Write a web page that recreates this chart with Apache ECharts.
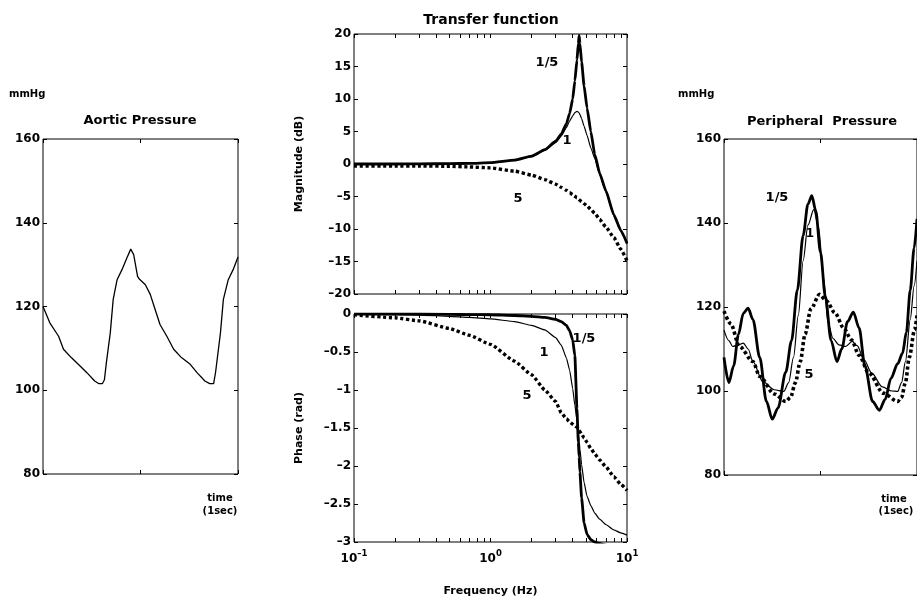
<!DOCTYPE html>
<html>
<head>
<meta charset="utf-8">
<script src="https://cdn.jsdelivr.net/npm/echarts@6/dist/echarts.min.js"></script>
<style>
  html, body { margin: 0; padding: 0; background: #fff; }
  #chart { width: 917px; height: 601px; }
</style>
</head>
<body>
<div id="chart"></div>
<script>
// aortic pressure, [time (s), mmHg]
var aortic = [[0,120],[0.07,116.1],[0.16,112.9],[0.21,109.8],[0.29,107.8],[0.38,105.8],[0.45,104.2],[0.53,102.2],
  [0.57,101.6],[0.61,101.6],[0.63,102.5],[0.65,106.6],[0.69,113.7],[0.72,121.7],[0.76,126.4],[0.81,128.8],
  [0.86,131.6],[0.9,133.7],[0.93,132.4],[0.97,127.2],[0.99,126.5],[1.05,125.2],[1.1,122.9],[1.15,119.3],
  [1.2,115.7],[1.27,112.9],[1.34,109.8],[1.42,107.8],[1.51,106.2],[1.58,104.2],[1.66,102.2],[1.71,101.6],
  [1.75,101.6],[1.77,104.3],[1.82,113.7],[1.85,121.7],[1.9,126.4],[1.95,128.8],[2.0,131.8]]

// transfer function, frequency in Hz
var freq = [0.1, 0.2, 0.3, 0.5, 0.7, 1, 1.5, 2, 2.5, 3, 3.3, 3.6, 3.8, 4.0, 4.15, 4.3, 4.4, 4.46, 4.52, 4.65,
  4.85, 5.1, 5.43, 5.8, 6.3, 7, 8, 9, 10]
var freqTicks = [0.1, 0.2, 0.3, 0.4, 0.5, 0.6, 0.7, 0.8, 0.9, 1, 2, 3, 4, 5, 6, 7, 8, 9, 10]
// magnitude (dB) for 1/5, 1, 5
var magA = [0, 0, 0.02, 0.05, 0.1, 0.2, 0.6, 1.2, 2.2, 3.5, 4.6, 6.2, 7.8, 10.0, 12.8, 16.0, 18.5, 19.8, 18.5, 15.7,
  12.0, 8.6, 5.0, 1.5, -1.4, -4.1, -7.8, -10.2, -12.2]
var magB = [0, 0, 0.02, 0.05, 0.1, 0.2, 0.55, 1.15, 2.1, 3.3, 4.3, 5.6, 6.6, 7.4, 7.9, 8.1, 8.0, 7.85, 7.6, 7.0,
  5.8, 4.4, 2.5, 0.9, -1.6, -4.3, -7.9, -10.3, -12.3]
var magC = [-0.3, -0.3, -0.3, -0.35, -0.45, -0.6, -1.1, -1.7, -2.4, -3.1, -3.6, -4.05, -4.4, -4.7, -4.95, -5.2, -5.4, -5.5, -5.6, -5.8,
  -6.1, -6.45, -7.0, -7.6, -8.5, -9.7, -11.3, -13.1, -14.9]
// phase (rad) for 1/5, 1, 5
var phA = [0, 0, 0, -0.005, -0.008, -0.01, -0.02, -0.03, -0.045, -0.07, -0.1, -0.15, -0.22, -0.34, -0.55, -1.25, -1.69, -1.88, -2.08, -2.42,
  -2.75, -2.9, -2.97, -3.0, -3.02, -3.04, -3.06, -3.07, -3.08]
var phB = [0, -0.01, -0.015, -0.03, -0.045, -0.065, -0.1, -0.15, -0.21, -0.31, -0.41, -0.58, -0.74, -0.98, -1.2, -1.4, -1.57, -1.67, -1.78, -1.98,
  -2.22, -2.4, -2.52, -2.62, -2.7, -2.77, -2.84, -2.88, -2.91]
var phC = [-0.01, -0.05, -0.09, -0.19, -0.28, -0.40, -0.62, -0.80, -1.0, -1.15, -1.3, -1.38, -1.42, -1.45, -1.47, -1.49, -1.51, -1.53, -1.55, -1.58,
  -1.63, -1.69, -1.77, -1.84, -1.92, -2.01, -2.14, -2.24, -2.32]

// peripheral pressure, [time (s), mmHg] for 1/5, 1, 5
var periA = [[0,108],[0.05,102],[0.1,106],[0.15,113.5],[0.2,118.5],[0.25,119.7],[0.3,117],[0.37,108],[0.44,97.5],
  [0.5,93.3],[0.56,96],[0.64,104.5],[0.7,112],[0.76,124],[0.82,137],[0.87,144.5],[0.91,146.5],[0.95,143],
  [1.0,133],[1.05,122.5],[1.11,112],[1.17,107],[1.22,110],[1.28,116.5],[1.34,118.8],[1.4,115],[1.46,106],
  [1.54,97.5],[1.61,95.4],[1.67,98],[1.73,103],[1.8,106.5],[1.85,109],[1.89,114],[1.93,124],[1.97,134],[2.0,141]]
var periB = [[0,114.5],[0.05,112],[0.09,110.6],[0.15,111],[0.2,111.4],[0.25,110],[0.3,107],[0.4,102.3],[0.52,100.3],
  [0.62,99.9],[0.67,102],[0.72,108],[0.77,118],[0.82,131],[0.87,139.5],[0.93,143.2],[0.98,139],[1.03,127],
  [1.08,116],[1.13,112.5],[1.19,111],[1.26,110.6],[1.33,111.8],[1.38,110.8],[1.45,107.5],[1.53,104.3],
  [1.64,101],[1.74,100],[1.8,99.9],[1.84,102],[1.88,107],[1.93,117],[1.97,125],[2.0,131]]
var periC = [[0,119],[0.07,116],[0.16,110.6],[0.3,107],[0.37,103.5],[0.52,99.3],[0.64,97.5],[0.69,98.5],[0.74,102],
  [0.79,107],[0.84,113.5],[0.9,119.5],[0.99,123],[1.06,121.5],[1.15,118.6],[1.24,115],[1.32,112.2],[1.4,108.5],
  [1.5,104.3],[1.65,99.5],[1.8,97.5],[1.84,98.5],[1.88,102],[1.92,108],[1.975,114.6],[2.0,118]]

var FONT = 'DejaVu Sans'
var chart = echarts.init(document.getElementById('chart'))

function pairs(ys) {
  return freq.map(function (f, i) { return [f, ys[i]] })
}
function minus(v) {
  return String(v).replace('-', '\u2013')
}
var tick = { show: true, inside: true, length: 4, lineStyle: { color: '#000', width: 1 } }
var logTick = { show: true, inside: true, length: 4, customValues: freqTicks, lineStyle: { color: '#000', width: 1 } }
var label = { color: '#000', fontFamily: FONT, fontWeight: 'bold', fontSize: 12, margin: 3 }
var noLabel = { show: false }
var noLine = { show: false, onZero: false }
var nameStyle = { color: '#000', fontFamily: FONT, fontWeight: 'bold', fontSize: 11 }

function timeAxis(grid, pos) {
  return { type: 'value', gridIndex: grid, position: pos, min: 0, max: 2, interval: 1,
    axisLine: noLine, axisTick: tick, axisLabel: noLabel, splitLine: { show: false } }
}
function logAxis(grid, pos, labels) {
  var ax = { type: 'log', logBase: 10, gridIndex: grid, position: pos, min: 0.1, max: 10,
    axisLine: noLine, axisTick: logTick, splitLine: { show: false }, axisLabel: noLabel }
  if (labels) {
    ax.axisLabel = {
      margin: 7,
      formatter: function (v) { return '{b|10}{s|' + minus(Math.round(Math.log10(v))) + '}' },
      rich: {
        b: { color: '#000', fontFamily: FONT, fontWeight: 'bold', fontSize: 12, verticalAlign: 'bottom' },
        s: { color: '#000', fontFamily: FONT, fontWeight: 'bold', fontSize: 8.5, verticalAlign: 'bottom', padding: [0, 0, 7, 0] }
      }
    }
    ax.name = 'Frequency (Hz)'
    ax.nameLocation = 'middle'
    ax.nameGap = 44
    ax.nameTextStyle = nameStyle
  }
  return ax
}
function valAxis(grid, pos, min, max, step, name) {
  var ax = { type: 'value', gridIndex: grid, position: pos, min: min, max: max, interval: step,
    axisLine: noLine, axisTick: tick, splitLine: { show: false },
    axisLabel: pos === 'left' ? Object.assign({ formatter: minus }, label) : noLabel }
  if (name) {
    ax.name = name
    ax.nameLocation = 'middle'
    ax.nameGap = 49
    ax.nameTextStyle = nameStyle
  }
  return ax
}
function line(x, y, data, width, dotted, smooth) {
  return {
    type: 'line', xAxisIndex: x, yAxisIndex: y, data: data, symbol: 'none', smooth: smooth,
    smoothMonotone: 'x', animation: false, silent: true,
    lineStyle: { color: '#000', width: width, type: dotted ? [3.2, 2.6] : 'solid', cap: 'butt' }
  }
}
function text(x, y, str, size, align) {
  return { type: 'text', x: x, y: y, silent: true,
    style: { text: str, fill: '#000', font: 'bold ' + (size || 12) + 'px "' + FONT + '"',
      textAlign: align || 'center', textVerticalAlign: 'middle' } }
}

var frame = { show: true, borderColor: '#000', borderWidth: 1, backgroundColor: 'transparent' }

chart.setOption({
  backgroundColor: '#fff',
  animation: false,
  grid: [
    Object.assign({ left: 43, top: 139, width: 195, height: 335 }, frame),
    Object.assign({ left: 354, top: 34, width: 273, height: 260 }, frame),
    Object.assign({ left: 354, top: 314, width: 273, height: 228 }, frame),
    Object.assign({ left: 724, top: 139, width: 195, height: 336 }, frame)
  ],
  xAxis: [
    timeAxis(0, 'bottom'), timeAxis(0, 'top'),
    logAxis(1, 'bottom', false), logAxis(1, 'top', false),
    logAxis(2, 'bottom', true), logAxis(2, 'top', false),
    timeAxis(3, 'bottom'), timeAxis(3, 'top')
  ],
  yAxis: [
    valAxis(0, 'left', 80, 160, 20), valAxis(0, 'right', 80, 160, 20),
    valAxis(1, 'left', -20, 20, 5, 'Magnitude (dB)'), valAxis(1, 'right', -20, 20, 5),
    valAxis(2, 'left', -3, 0, 0.5, 'Phase (rad)'), valAxis(2, 'right', -3, 0, 0.5),
    valAxis(3, 'left', 80, 160, 20), valAxis(3, 'right', 80, 160, 20)
  ],
  series: [
    line(0, 0, aortic, 1.3, false, false),
    line(2, 2, pairs(magA), 2.8, false, 0.15),
    line(2, 2, pairs(magB), 1.2, false, 0.15),
    line(2, 2, pairs(magC), 3.4, true, 0.15),
    line(4, 4, pairs(phA), 2.8, false, 0.15),
    line(4, 4, pairs(phB), 1.2, false, 0.15),
    line(4, 4, pairs(phC), 3.4, true, 0.15),
    line(6, 6, periA, 2.8, false, 0.3),
    line(6, 6, periB, 1.2, false, 0.3),
    line(6, 6, periC, 3.6, true, 0.3)
  ],
  graphic: [
    text(9, 94, 'mmHg', 10, 'left'),
    text(140, 121, 'Aortic Pressure', 13),
    text(220, 498, 'time', 10),
    text(220, 511, '(1sec)', 10),
    text(491, 20, 'Transfer function', 14),
    text(547, 63, '1/5', 13), text(567, 141, '1', 13), text(518, 199, '5', 13),
    text(584, 339, '1/5', 13), text(544, 353, '1', 13), text(527, 396, '5', 13),
    text(678, 94, 'mmHg', 10, 'left'),
    text(822, 122, 'Peripheral  Pressure', 13),
    text(777, 198, '1/5', 13), text(810, 234, '1', 12), text(809, 375, '5', 13),
    text(894, 499, 'time', 10),
    text(896, 511, '(1sec)', 10)
  ]
})
</script>
</body>
</html>
